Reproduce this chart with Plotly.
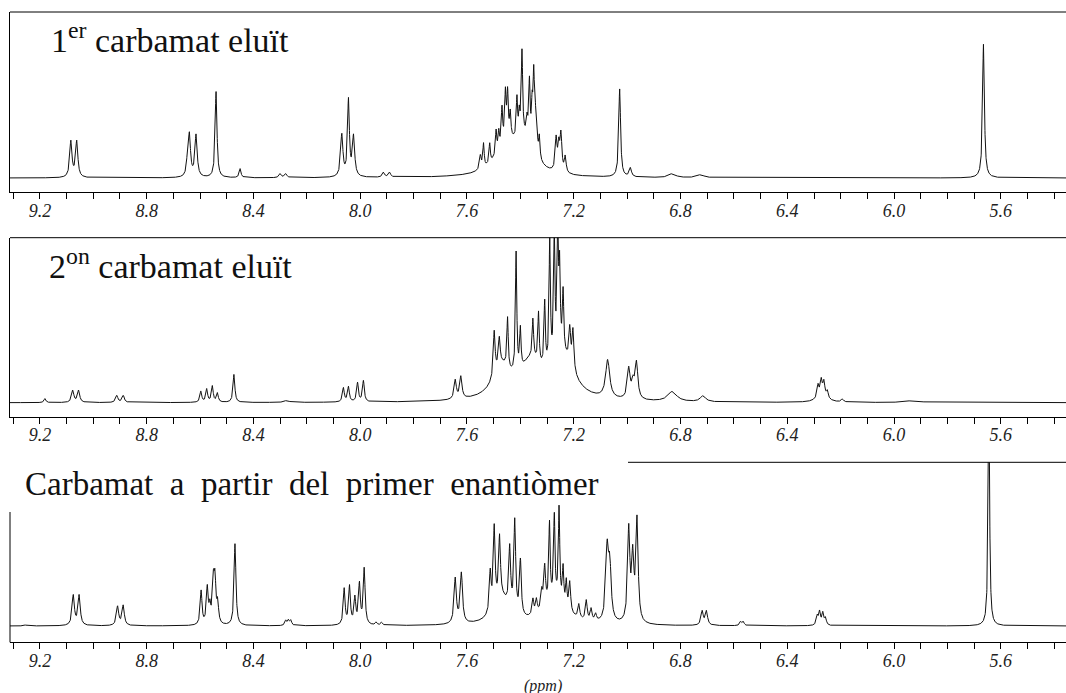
import numpy as np
import plotly.graph_objects as go

# ---------------- data ----------------
# peak lists: chemical shift (ppm), apparent intensity, half width (ppm)
p1_ppm = [9.084, 9.062, 8.648, 8.640, 8.615, 8.540, 8.450, 8.300, 8.279,
          8.069, 8.044, 8.025, 7.913, 7.890,
          7.550, 7.538, 7.515, 7.491, 7.481, 7.469, 7.456, 7.448, 7.438,
          7.413, 7.404, 7.394, 7.375, 7.366, 7.356, 7.350, 7.344, 7.338, 7.329,
          7.450, 7.380,
          7.266, 7.256, 7.248, 7.232, 7.028, 6.988, 6.831, 6.725, 5.665]
p1_int = [36, 36, 12, 42, 42, 86, 9, 4, 4,
          42, 76, 40, 5, 5,
          14, 24, 20, 24, 18, 36, 46, 44, 24,
          40, 22, 84, 16, 58, 36, 70, 32, 20, 22,
          30, 30,
          32, 24, 36, 16, 88, 9, 4, 3, 134]
p1_wid = [0.005, 0.005, 0.004, 0.005, 0.005, 0.004, 0.004, 0.005, 0.005,
          0.005, 0.004, 0.005, 0.005, 0.005,
          0.004, 0.003, 0.003, 0.003, 0.003, 0.003, 0.003, 0.003, 0.003,
          0.003, 0.003, 0.003, 0.003, 0.003, 0.003, 0.003, 0.003, 0.003, 0.003,
          0.05, 0.04,
          0.004, 0.004, 0.004, 0.004, 0.004, 0.005, 0.015, 0.015, 0.004]

p2_ppm = [9.181, 9.077, 9.055, 8.912, 8.888, 8.597, 8.575, 8.554, 8.535,
          8.473, 8.275, 8.063, 8.044, 8.010, 7.988, 7.644, 7.623,
          7.498, 7.479, 7.448, 7.416, 7.400, 7.353, 7.332, 7.309, 7.290,
          7.273, 7.260, 7.253, 7.240, 7.215, 7.203,
          7.470, 7.360, 7.240,
          7.073, 6.994, 6.978, 6.965, 6.831, 6.716,
          6.285, 6.273, 6.263, 6.250, 6.270, 6.194, 5.930]
p2_int = [4, 12, 12, 7, 7, 11, 13, 16, 9,
          28, 2, 14, 15, 19, 21, 19, 22,
          45, 28, 50, 120, 40, 38, 50, 65, 125,
          125, 125, 80, 60, 35, 40,
          30, 35, 40,
          38, 30, 15, 36, 10, 6,
          12, 14, 13, 7, 8, 3, 2]
p2_wid = [0.004, 0.005, 0.005, 0.005, 0.005, 0.004, 0.004, 0.004, 0.004,
          0.004, 0.01, 0.004, 0.004, 0.004, 0.004, 0.005, 0.005,
          0.004, 0.004, 0.003, 0.003, 0.003, 0.003, 0.003, 0.003, 0.003,
          0.003, 0.003, 0.003, 0.003, 0.004, 0.004,
          0.04, 0.05, 0.05,
          0.009, 0.006, 0.006, 0.006, 0.02, 0.012,
          0.004, 0.004, 0.004, 0.004, 0.02, 0.005, 0.03]

p3_ppm = [9.256, 9.075, 9.053, 8.909, 8.888,
          8.596, 8.573, 8.563, 8.550, 8.544, 8.534, 8.469,
          8.279, 8.269, 8.260,
          8.060, 8.040, 8.020, 8.003, 7.985, 7.940, 7.920,
          7.644, 7.621,
          7.513, 7.498, 7.478, 7.440, 7.421, 7.400, 7.470,
          7.353, 7.340, 7.320, 7.309, 7.291, 7.273, 7.255, 7.240, 7.228,
          7.215, 7.181, 7.153, 7.135, 7.118, 7.270,
          7.075, 7.065, 6.994, 6.979, 6.963,
          6.719, 6.703, 6.575, 6.565,
          6.288, 6.279, 6.267, 6.257, 5.645]
p3_int = [1, 30, 30, 19, 20,
          34, 36, 16, 40, 40, 20, 82,
          5, 5, 5,
          36, 38, 26, 40, 56, 3, 3,
          45, 50,
          40, 80, 62, 60, 92, 55, 25,
          16, 14, 18, 40, 78, 82, 92, 36, 26,
          30, 14, 20, 12, 7, 25,
          70, 52, 92, 62, 102,
          14, 14, 4, 4,
          9, 13, 12, 7, 260]
p3_wid = [0.005, 0.005, 0.005, 0.005, 0.005,
          0.004, 0.004, 0.004, 0.004, 0.004, 0.004, 0.004,
          0.004, 0.004, 0.004,
          0.004, 0.004, 0.004, 0.004, 0.004, 0.004, 0.004,
          0.005, 0.005,
          0.004, 0.004, 0.004, 0.004, 0.004, 0.004, 0.035,
          0.004, 0.004, 0.004, 0.004, 0.003, 0.003, 0.003, 0.003, 0.003,
          0.004, 0.004, 0.004, 0.004, 0.004, 0.05,
          0.006, 0.006, 0.005, 0.005, 0.005,
          0.005, 0.005, 0.004, 0.004,
          0.004, 0.004, 0.004, 0.004, 0.003]

panel_titles = ["1<sup>er</sup> carbamat eluït",
                "2<sup>on</sup> carbamat eluït",
                "Carbamat\u00a0 a\u00a0 partir\u00a0 del\u00a0 primer\u00a0 enantiòmer"]
tick_vals = [9.2, 8.8, 8.4, 8.0, 7.6, 7.2, 6.8, 6.4, 6.0, 5.6]
tick_text = ["9.2", "8.8", "8.4", "8.0", "7.6", "7.2", "6.8", "6.4", "6.0", "5.6"]
minor_step = 0.1
x_axis_title = "(ppm)"

# ---------------- build figure ----------------
X_RANGE = [9.312, 5.356]
grid = np.arange(5.35, 9.32, 0.0004)


def spectrum(ppm, inten, wid):
    y = np.zeros_like(grid)
    for c, h, w in zip(ppm, inten, wid):
        y += h / (1.0 + ((grid - c) / w) ** 2)
    return y


W, H = 1066, 693


def fy(px):
    return 1 - px / H


panels = [
    dict(ppm=p1_ppm, inten=p1_int, wid=p1_wid, top=12, axis=192, base=178),
    dict(ppm=p2_ppm, inten=p2_int, wid=p2_wid, top=237.7, axis=416.7, base=402.7),
    dict(ppm=p3_ppm, inten=p3_int, wid=p3_wid, top=462.3, axis=642.3, base=626),
]

fig = go.Figure()
layout = dict(width=W, height=H, margin=dict(l=0, r=0, t=0, b=0),
              paper_bgcolor="white", plot_bgcolor="white", showlegend=False)

SERIF = "Liberation Serif"
x0 = 10 / W
shapes = []
annotations = []
for i, p in enumerate(panels):
    n = "" if i == 0 else str(i + 1)
    fig.add_trace(go.Scatter(x=grid, y=spectrum(p["ppm"], p["inten"], p["wid"]),
                             mode="lines", line=dict(color="#111", width=1),
                             xaxis="x" + n, yaxis="y" + n, hoverinfo="skip"))
    ybot = -(p["axis"] - p["base"])
    ytop = p["base"] - p["top"]
    layout["xaxis" + n] = dict(
        domain=[x0, 1], range=X_RANGE, anchor="y" + n,
        showgrid=False, zeroline=False, showline=True, linecolor="black", linewidth=1,
        ticks="outside", ticklen=6, tickcolor="black", tickwidth=1,
        tickmode="array", tickvals=tick_vals, ticktext=tick_text,
        tickfont=dict(family=SERIF, size=18, color="#222", style="italic"),
        ticklabelstandoff=-4,
        minor=dict(tickmode="linear", tick0=9.3, dtick=minor_step, ticks="outside",
                   ticklen=6, tickcolor="black", tickwidth=1, showgrid=False))
    layout["yaxis" + n] = dict(
        domain=[fy(p["axis"]), fy(p["top"])], range=[ybot, ytop], anchor="x" + n,
        showgrid=False, zeroline=False, showticklabels=False, ticks="",
        showline=(i < 2), linecolor="black", linewidth=1)
    if i < 2:
        shapes.append(dict(type="line", xref="paper", yref="paper",
                           x0=x0, x1=1, y0=fy(p["top"]), y1=fy(p["top"]),
                           line=dict(color="black", width=1)))

# third panel frame (partly hidden behind its title)
shapes.append(dict(type="line", xref="paper", yref="paper",
                   x0=628 / W, x1=1, y0=fy(462.3), y1=fy(462.3),
                   line=dict(color="black", width=1)))
shapes.append(dict(type="line", xref="paper", yref="paper",
                   x0=x0, x1=x0, y0=fy(512), y1=fy(642.3),
                   line=dict(color="black", width=1)))

title_pos = [(49, 38), (47, 264), (23, 484)]
title_size = [34, 34, 33]
for t, (tx, ty), s in zip(panel_titles, title_pos, title_size):
    annotations.append(dict(text=t, xref="paper", yref="paper", x=tx / W, y=fy(ty),
                            xanchor="left", yanchor="middle", showarrow=False,
                            font=dict(family=SERIF, size=s, color="#111")))

annotations.append(dict(text=x_axis_title, xref="paper", yref="paper",
                        x=543 / W, y=fy(686), xanchor="center", yanchor="middle",
                        showarrow=False,
                        font=dict(family=SERIF, size=16, color="#222", style="italic")))

layout["shapes"] = shapes
layout["annotations"] = annotations
fig.update_layout(**layout)
fig.write_html("out.html")
